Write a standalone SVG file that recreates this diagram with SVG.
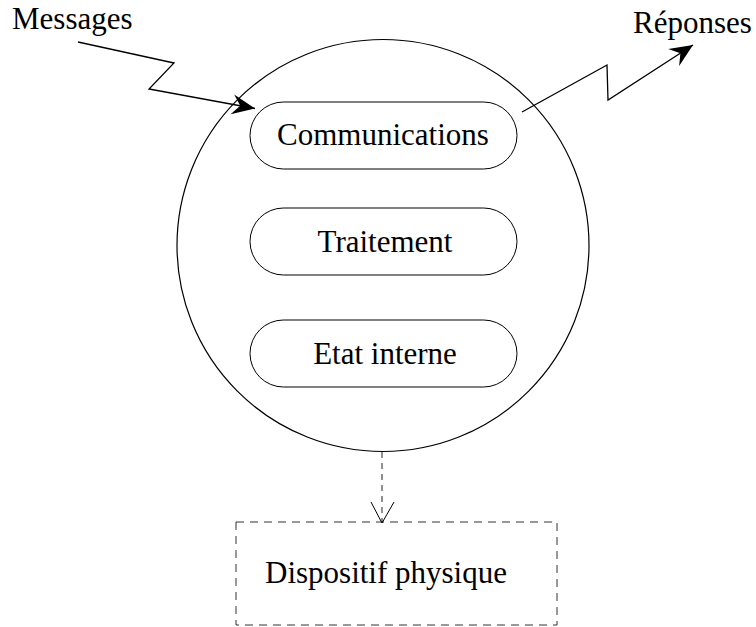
<svg xmlns="http://www.w3.org/2000/svg" width="756" height="627" viewBox="0 0 756 627">
  <style>
    .lbl { font-family: "Liberation Serif", "Times New Roman", serif; font-size: 31px; fill: #000; }
    .mid { text-anchor: middle; }
    .agent { fill: none; stroke: #000; stroke-width: 1.2; }
    .pill { fill: none; stroke: #000; stroke-width: 1; }
    .flow { fill: none; stroke: #000; stroke-width: 1.3; stroke-linejoin: miter; }
    .dash { fill: none; stroke: #222; stroke-width: 1; stroke-dasharray: 6 5; }
    .box { fill: none; stroke: #333; stroke-width: 1; stroke-dasharray: 8 6; }
  </style>
  <defs>
    <marker id="barb" viewBox="-24 -12 26 24" markerWidth="26" markerHeight="24" refX="0" refY="0" orient="auto" markerUnits="userSpaceOnUse">
      <path d="M0,0 L-23,-10 L-15,0 L-23,10 Z" fill="#000"/>
    </marker>
  </defs>
  <rect width="756" height="627" fill="#fff"/>

  <!-- agent body -->
  <g id="agent">
    <circle class="agent" cx="383" cy="245.5" r="206"/>
  </g>

  <g id="communications">
    <rect class="pill" x="250" y="102" width="267" height="67" rx="33.5" ry="33.5"/>
    <text class="lbl mid" x="383" y="145">Communications</text>
  </g>

  <g id="traitement">
    <rect class="pill" x="250" y="208" width="267" height="67" rx="33.5" ry="33.5"/>
    <text class="lbl mid" x="385" y="252">Traitement</text>
  </g>

  <g id="etat-interne">
    <rect class="pill" x="250" y="320" width="267" height="67" rx="33.5" ry="33.5"/>
    <text class="lbl mid" x="385" y="364">Etat interne</text>
  </g>

  <g id="dispositif">
    <rect class="box" x="236" y="522" width="321" height="103"/>
    <text class="lbl mid" x="386" y="583">Dispositif physique</text>
  </g>

  <g id="messages">
    <text class="lbl" x="12" y="29">Messages</text>
  </g>

  <g id="reponses">
    <text class="lbl" x="633" y="33">Réponses</text>
  </g>

  <!-- connectors -->
  <g id="connectors">
    <polyline class="flow" points="78,42 174,63 149,89 255,108.5" marker-end="url(#barb)"/>
    <polyline class="flow" points="522,112 607,65 608,100 693,45" marker-end="url(#barb)"/>
    <line class="dash" x1="382" y1="452" x2="382" y2="522"/>
    <polyline class="flow" points="371,502 382,523 394,502" style="stroke-width:1"/>
  </g>
</svg>
